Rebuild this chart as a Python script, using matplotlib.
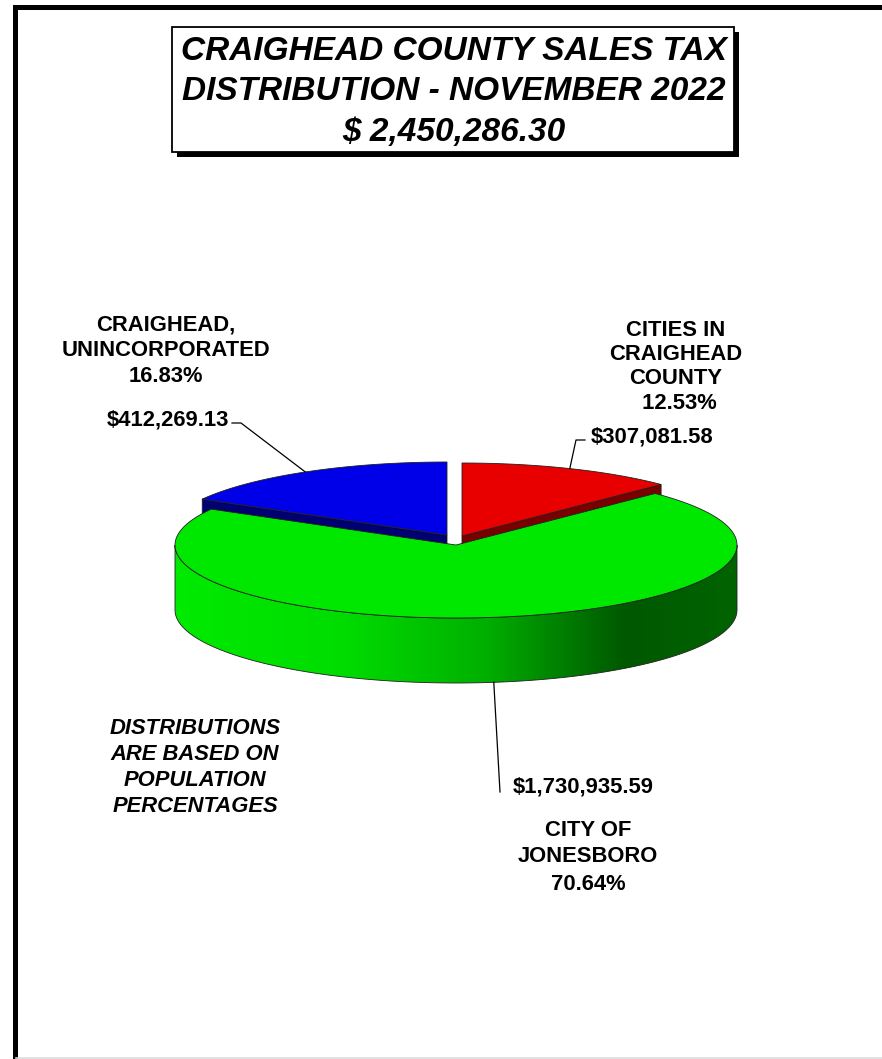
"""
Craighead County sales tax distribution, November 2022, drawn as a 3D pie.
"""
import numpy as np
import matplotlib
matplotlib.use("agg")
import matplotlib.pyplot as plt
from matplotlib.patches import Polygon, Rectangle
from matplotlib.colors import LinearSegmentedColormap

plt.rcParams['font.family'] = ['Liberation Sans', 'DejaVu Sans']

# data, in clockwise order from 12 o'clock
NAMES = ["CITIES IN\nCRAIGHEAD\nCOUNTY\n 12.53%",
         "CITY OF\nJONESBORO\n70.64%",
         "CRAIGHEAD,\nUNINCORPORATED\n16.83%"]
AMOUNTS = [307081.58, 1730935.59, 412269.13]
TOTAL = 2450286.30
TOP_COLORS = ["#e80000", "#00e800", "#0000e8"]
SIDE_COLORS = ["#7a0000", "#006000", "#000070"]
# how far each slice is pulled out (pixels, screen space)
EXPLODE_PX = [(6, -9), (0, 0), (-9, -10)]

# pie geometry in pixel units
CX, CY = 456, 545
RX, RY = 281, 73
DEPTH = 65


def rim(theta, off=(0, 0), drop=0):
    """point on the ellipse rim, theta in degrees clockwise from top"""
    t = np.radians(theta)
    return (CX + off[0] + RX * np.sin(t), CY + off[1] - RY * np.cos(t) + drop)


def arc(t1, t2, off=(0, 0), drop=0, n=120):
    ts = np.linspace(t1, t2, n)
    x, y = rim(ts, off, drop)
    return np.column_stack([x, y])


fig = plt.figure(figsize=(8.82, 10.59), dpi=100)
ax = fig.add_axes([0, 0, 1, 1])
ax.set_axis_off()

fracs = np.array(AMOUNTS) / np.sum(AMOUNTS)
bounds = np.concatenate([[0], np.cumsum(fracs) * 360])

edge = dict(edgecolor="#202020", linewidth=0.6)
wedges = []
for i in range(len(AMOUNTS)):
    t1, t2 = bounds[i], bounds[i + 1]
    wedges.append((t1, t2, (t1 + t2) / 2, EXPLODE_PX[i]))

# exploded small slices first (they sit behind), big slice last
order = [0, 2, 1]
for i in order:
    t1, t2, mid, off = wedges[i]
    c = (CX + off[0], CY + off[1])
    # radial faces that turn towards the viewer
    for ang in (t1, t2):
        s = np.sin(np.radians(ang))
        facing = (ang == t2 and s > 0) or (ang == t1 and s < 0)
        if facing:
            p = rim(ang, off)
            face = [c, p, (p[0], p[1] + DEPTH), (c[0], c[1] + DEPTH)]
            ax.add_patch(Polygon(face, closed=True, facecolor=SIDE_COLORS[i], **edge))
    # outer side on the front half
    a1, a2 = max(t1, 90), min(t2, 270)
    if a2 > a1:
        top = arc(a1, a2, off)
        bot = arc(a2, a1, off, DEPTH)
        side = Polygon(np.vstack([top, bot]), closed=True,
                       facecolor="none", **edge)
        ax.add_patch(side)
        if i == 1:
            cmap = LinearSegmentedColormap.from_list(
                "gside", [(0, "#00ea00"), (0.3, "#00dc00"), (0.55, "#00b000"),
                          (0.8, "#005800"), (1, "#006400")])
            grad = np.linspace(0, 1, 256).reshape(1, -1)
            im = ax.imshow(grad, cmap=cmap, aspect="auto",
                           extent=[CX - RX, CX + RX, CY + RY + DEPTH, CY - RY],
                           zorder=0.9)
            im.set_clip_path(side)
            side.set_zorder(1)
        else:
            side.set_facecolor(SIDE_COLORS[i])
    # top face
    pts = np.vstack([[c], arc(t1, t2, off)])
    ax.add_patch(Polygon(pts, closed=True, facecolor=TOP_COLORS[i], zorder=1, **edge))

# labels
FS = 15.8
bold = dict(fontsize=FS, fontweight="bold", ha="center", va="center")


def block(lines, x, y0, step, **kw):
    for k, s in enumerate(lines):
        ax.text(x, y0 + k * step, s, **kw)


block(NAMES[2].split("\n"), 166, 325, 26, **bold)
block(NAMES[0].split("\n"), 676, 330, 24.5, **bold)
block(NAMES[1].split("\n"), 588, 830, 27, **bold)
block(["DISTRIBUTIONS", "ARE BASED ON", "POPULATION", "PERCENTAGES"],
      195, 728, 26.3, fontstyle="italic", **bold)

money = ["${:,.2f}".format(v) for v in AMOUNTS]
ax.text(652, 437, money[0], **bold)
ax.text(583, 787, money[1], **bold)
ax.text(168, 420, money[2], **bold)

# leader lines to the middle of each slice
lk = dict(color="black", linewidth=0.9, zorder=3)
p = rim(wedges[2][2], wedges[2][3])
ax.plot([232, 241, p[0]], [423, 423, p[1]], **lk)
p = rim(wedges[0][2], wedges[0][3])
ax.plot([585, 576, p[0]], [440, 440, p[1]], **lk)
p = rim(wedges[1][2], wedges[1][3], DEPTH)
ax.plot([500, p[0]], [792, p[1]], **lk)

# title box with shadow
ax.add_patch(Rectangle((177, 32), 562, 125, facecolor="black", zorder=4))
ax.add_patch(Rectangle((172, 27), 562, 125, facecolor="white",
                       edgecolor="black", linewidth=1.3, zorder=5))
title = ["CRAIGHEAD COUNTY SALES TAX", "DISTRIBUTION - NOVEMBER 2022",
         "$ {:,.2f}".format(TOTAL)]
block(title, 454, 51, 40.5, fontsize=24, fontweight="bold", fontstyle="italic",
      ha="center", va="center", zorder=6)

# page frame
ax.plot([14.5, 14.5], [1059, 7], color="black", linewidth=3.6,
        solid_capstyle="projecting", zorder=7)
ax.plot([14.5, 882], [7, 7], color="black", linewidth=3.6, zorder=7)
ax.plot([16, 882], [1057.5, 1057.5], color="#dddddd", linewidth=1.2, zorder=7)

ax.set_xlim(0, 882)
ax.set_ylim(1059, 0)
fig.savefig("out.png", dpi=100)
